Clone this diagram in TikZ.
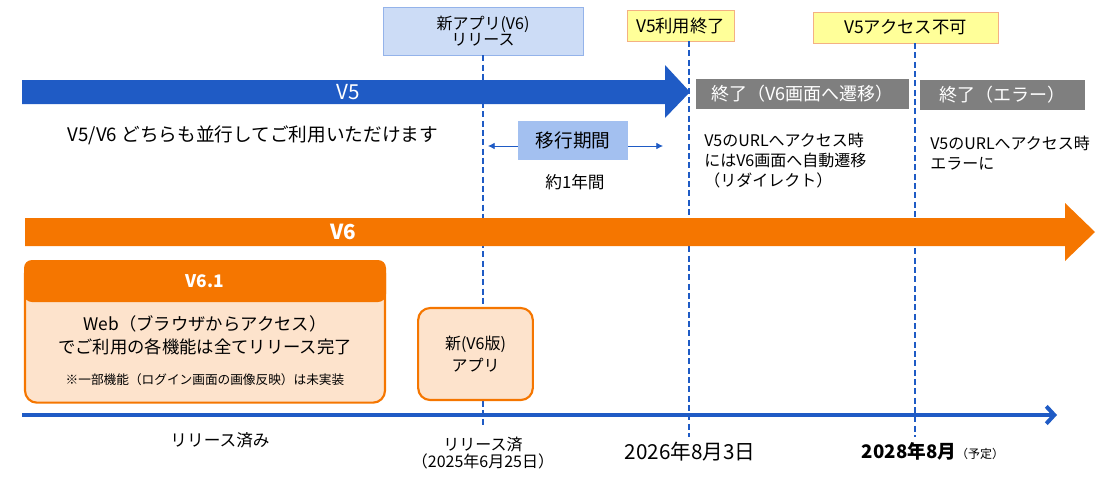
\documentclass[tikz,border=0pt]{standalone}
\usepackage{fontspec}
\setmainfont{Noto Sans CJK JP}
\usetikzlibrary{arrows.meta,positioning,calc}
\definecolor{vfiveblue}{HTML}{1F5BC5}
\definecolor{vsixorange}{HTML}{F57600}
\definecolor{peach}{HTML}{FDE3CC}
\definecolor{relfill}{HTML}{CCDCF6}
\definecolor{relborder}{HTML}{94B3EA}
\definecolor{migfill}{HTML}{A3C0F0}
\definecolor{notefill}{HTML}{FFFF99}
\definecolor{noteborder}{HTML}{F4B183}
\definecolor{endgray}{HTML}{7F7F7F}

\begin{document}
\begin{tikzpicture}[x=0.75pt,y=-0.75pt,
  relbox/.style={draw=relborder,fill=relfill,minimum width=150pt,minimum height=36pt,align=center,font=\fontsize{12}{12.5}\selectfont,inner sep=1pt},
  notebox/.style={draw=noteborder,fill=notefill,minimum height=23pt,font=\fontsize{13}{15}\selectfont},
  endbox/.style={fill=endgray,text=white,minimum height=22pt,font=\fontsize{13.5}{15}\selectfont},
  migbox/.style={fill=migfill,minimum width=82.5pt,minimum height=29pt,font=\fontsize{14}{16}\selectfont},
  appbox/.style={draw=vsixorange,line width=1.6pt,fill=peach,rounded corners=9pt,align=center},
  milestone/.style={vfiveblue,line width=1.6pt,dash pattern=on 4.5pt off 2.5pt},
  migarrow/.style={-{Latex[length=5pt,width=5pt]},vfiveblue,line width=0.6pt},
  axis/.style={-{Straight Barb[length=6pt,width=13pt]},vfiveblue,line width=3pt},
  barlbl/.style={text=white,font=\fontsize{15.5}{17}\selectfont},
  txt/.style={align=center,font=\fontsize{12.5}{15}\selectfont}
]
\useasboundingbox (0,0) rectangle (1108,490);

% milestones on top
\node[relbox] (rel) at (483,31) {新アプリ(V6)\\リリース};
\node[notebox,minimum width=80pt] (eol) at (680.5,25.5) {V5利用終了};
\node[notebox,minimum width=139pt] (noacc) at (905.5,27.5) {V5アクセス不可};
\coordinate (relbot) at (483,425);
\coordinate (eolbot) at (689,437);
\coordinate (noaccbot) at (915,437);
\draw[milestone] (rel.south) -- (relbot);
\draw[milestone] (eol.south -| eolbot) -- (eolbot);
\draw[milestone] (noacc.south -| noaccbot) -- (noaccbot);

% V5 bar
\fill[vfiveblue] (22,80) -- (665,80) -- (665,65) -- (690,92) -- (665,118) -- (665,104) -- (22,104) -- cycle;
\node[barlbl] (vfive) at (348,92) {V5};
\node[endbox,minimum width=160pt] (endredir) at (802.5,94) {終了（V6画面へ遷移）};
\node[endbox,minimum width=124pt] (enderr) at (1002.5,95) {終了（エラー）};

\node[txt,font=\fontsize{14}{16}\selectfont] (both) at (253,135) {V5/V6 どちらも並行してご利用いただけます};
\node[migbox] (mig) at (573,140.5) {移行期間};
\coordinate (migl) at (488,146);
\coordinate (migr) at (663,146);
\draw[migarrow] (mig.west |- migl) -- (migl);
\draw[migarrow] (mig.east |- migr) -- (migr);
\node[txt] (year) at (575,182) {約1年間};

\node[anchor=north west,align=left,font=\fontsize{12}{15}\selectfont,inner sep=0pt] (redir) at (704,133) {V5のURLへアクセス時\\にはV6画面へ自動遷移\\（リダイレクト）};
\node[anchor=north west,align=left,font=\fontsize{12}{15}\selectfont,inner sep=0pt] (err) at (930,136) {V5のURLへアクセス時\\エラーに};

% V6 bar
\fill[vsixorange] (25,218) -- (1065,218) -- (1065,203) -- (1095,232) -- (1065,261) -- (1065,246) -- (25,246) -- cycle;
\node[barlbl,font=\fontsize{15.5}{17}\selectfont\bfseries] (vsix) at (343,232) {V6};

% V6.1 box
\node[appbox,minimum width=270pt,minimum height=106pt] (webbody) at (205,332) {};
\node[fill=vsixorange,rounded corners=6pt,minimum width=271.5pt,minimum height=31.5pt,text=white,font=\fontsize{13}{15}\selectfont\bfseries] (webhead) at (205,281) {V6.1};
\node[txt,font=\fontsize{13}{17}\selectfont] (webtxt) at (205,335) {Web（ブラウザからアクセス）\\でご利用の各機能は全てリリース完了};
\node[txt,font=\fontsize{9.5}{11}\selectfont] (webnote) at (205,380) {※一部機能（ログイン画面の画像反映）は未実装};

\node[appbox,minimum width=86pt,minimum height=69pt,font=\fontsize{12}{17}\selectfont] (newapp) at (475.5,354) {新(V6版)\\アプリ};

% time axis
\coordinate (axstart) at (22,415);
\coordinate (axend) at (1057,415);
\draw[axis] (axstart) -- (axend);

\node[txt] (released) at (220,440) {リリース済み};
\node[txt,font=\fontsize{12}{13}\selectfont] (reldate) at (483,453) {リリース済\\（2025年6月25日）};
\node[txt,font=\fontsize{15.5}{17}\selectfont] (eoldate) at (690,452) {2026年8月3日};
\node[txt,font=\fontsize{14}{16}\selectfont\bfseries] (noaccdate) at (933,451) {2028年8月\fontsize{9}{10}\selectfont\mdseries（予定）};
\end{tikzpicture}
\end{document}
